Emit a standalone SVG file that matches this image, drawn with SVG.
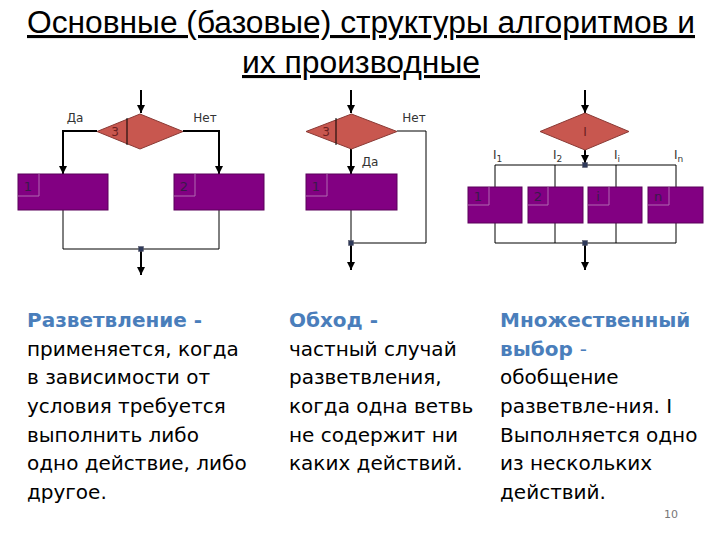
<svg xmlns="http://www.w3.org/2000/svg" width="720" height="540" viewBox="0 0 720 540">
<defs>
<marker id="ah" viewBox="0 0 8 10" refX="8" refY="5" markerWidth="8" markerHeight="10" markerUnits="userSpaceOnUse" orient="auto">
<path d="M0,1 L8,5 L0,9 Z" fill="#000"/>
</marker>
<style>
.dia{fill:#C8574F;stroke:#8a3a35;stroke-width:1}
.box{fill:#820082;stroke:#5a005a;stroke-width:1}
.lab{fill:none;stroke:#b068b0;stroke-width:1}
.ln{fill:none;stroke:#000;stroke-width:1}
.ar{fill:none;stroke:#000;stroke-width:2;marker-end:url(#ah)}
.jn{fill:#2f3a5a;stroke:#556;stroke-width:0.5}
.sm{font-family:"DejaVu Sans",sans-serif;font-size:12px;fill:#333}
.bl{font-family:"DejaVu Sans",sans-serif;font-size:13px;fill:#3a1a4a}
.dl{font-family:"DejaVu Sans",sans-serif;font-size:12px;fill:#6a2020}
.tx{font-family:"DejaVu Sans",sans-serif;font-size:20px;fill:#000}
.hd{font-family:"DejaVu Sans",sans-serif;font-size:20px;font-weight:bold;fill:#4A7EBB}
.ti{font-family:"Liberation Sans",Arial,sans-serif;font-size:31px;fill:#000;text-decoration:underline}
</style>
</defs>
<rect width="720" height="540" fill="#fff"/>
<g id="title">
<text class="ti" x="361" y="33" text-anchor="middle" textLength="668" lengthAdjust="spacingAndGlyphs">Основные (базовые) структуры алгоритмов и</text>
<text class="ti" x="361" y="73" text-anchor="middle" textLength="238" lengthAdjust="spacingAndGlyphs">их производные</text>
</g>
<g id="connectors">
<path class="ar" d="M141,90 V113"/>
<path class="ar" d="M97,131 H63 V174"/>
<path class="ar" d="M183,131 H219 V174"/>
<path class="ln" d="M63,210 V249 H219 V210"/>
<path class="ar" d="M141,249 V275"/>
<path class="ar" d="M351,90 V113"/>
<path class="ar" d="M351,149 V174"/>
<path class="ln" d="M397,131 H426 V243 H351 V210"/>
<path class="ar" d="M351,243 V270"/>
<path class="ar" d="M585,90 V113"/>
<path class="ar" d="M585,150 V163"/>
<path class="ln" d="M495,187 V165 H676 V187 M555,165 V187 M616,165 V187"/>
<path class="ln" d="M495,223 V243 H676 V223 M555,223 V243 M616,223 V243"/>
<path class="ar" d="M585,243 V270"/>
</g>
<g id="d1-cond">
<polygon class="dia" points="140,114 183,131.5 140,149 97,131.5"/>
<line class="ln" x1="127" y1="118" x2="127" y2="145" stroke="#5a1a1a"/>
<text class="dl" x="115" y="136" text-anchor="middle">3</text>
</g>
<g id="d1-labels">
<text class="sm" x="75" y="122" text-anchor="middle">Да</text>
<text class="sm" x="205" y="122" text-anchor="middle">Нет</text>
</g>
<g id="d1-box1">
<rect class="box" x="18" y="174" width="90" height="36"/>
<path class="lab" d="M18,196 H39 V174"/>
<text class="bl" x="28" y="191" text-anchor="middle">1</text>
</g>
<g id="d1-box2">
<rect class="box" x="174" y="174" width="90" height="36"/>
<path class="lab" d="M174,196 H195 V174"/>
<text class="bl" x="184" y="191" text-anchor="middle">2</text>
</g>
<g id="d1-join"><rect class="jn" x="138.5" y="246.5" width="5" height="5"/></g>
<g id="d2-cond">
<polygon class="dia" points="351.5,114 397,131.5 351.5,149 306,131.5"/>
<line class="ln" x1="336" y1="118" x2="336" y2="145" stroke="#5a1a1a"/>
<text class="dl" x="326" y="136" text-anchor="middle">3</text>
</g>
<g id="d2-labels">
<text class="sm" x="414" y="122" text-anchor="middle">Нет</text>
<text class="sm" x="370" y="166" text-anchor="middle">Да</text>
</g>
<g id="d2-box1">
<rect class="box" x="306" y="174" width="91" height="36"/>
<path class="lab" d="M306,196 H327 V174"/>
<text class="bl" x="316" y="191" text-anchor="middle">1</text>
</g>
<g id="d2-join"><rect class="jn" x="348.5" y="240.5" width="5" height="5"/></g>
<g id="d3-cond">
<polygon class="dia" points="585,113 629,131.5 585,150 540,131.5"/>
<text class="dl" x="585" y="136" text-anchor="middle">I</text>
</g>
<g id="d3-labels">
<text class="sm" x="493" y="159">I<tspan font-size="9" dy="3">1</tspan></text>
<text class="sm" x="553" y="159">I<tspan font-size="9" dy="3">2</tspan></text>
<text class="sm" x="614" y="159">I<tspan font-size="9" dy="3">i</tspan></text>
<text class="sm" x="674" y="159">I<tspan font-size="9" dy="3">n</tspan></text>
</g>
<g id="d3-join-top"><rect class="jn" x="582.5" y="162.5" width="5" height="5"/></g>
<g id="d3-box1">
<rect class="box" x="468" y="187" width="54" height="36"/>
<path class="lab" d="M468,205 H489 V187"/>
<text class="bl" x="478" y="201" text-anchor="middle">1</text>
</g>
<g id="d3-box2">
<rect class="box" x="528" y="187" width="55" height="36"/>
<path class="lab" d="M528,205 H548 V187"/>
<text class="bl" x="538" y="201" text-anchor="middle">2</text>
</g>
<g id="d3-boxi">
<rect class="box" x="588" y="187" width="54" height="36"/>
<path class="lab" d="M588,205 H609 V187"/>
<text class="bl" x="598" y="201" text-anchor="middle">i</text>
</g>
<g id="d3-boxn">
<rect class="box" x="648" y="187" width="55" height="36"/>
<path class="lab" d="M648,205 H669 V187"/>
<text class="bl" x="658" y="201" text-anchor="middle">n</text>
</g>
<g id="d3-join-bottom"><rect class="jn" x="582.5" y="240.5" width="5" height="5"/></g>
<g id="text-left">
<text class="hd" x="27" y="327">Разветвление -</text>
<text class="tx" x="27" y="356">применяется, когда</text>
<text class="tx" x="27" y="384">в зависимости от</text>
<text class="tx" x="27" y="413">условия требуется</text>
<text class="tx" x="27" y="442">выполнить либо</text>
<text class="tx" x="27" y="470">одно действие, либо</text>
<text class="tx" x="27" y="499">другое.</text>
</g>
<g id="text-mid">
<text class="hd" x="289" y="327">Обход -</text>
<text class="tx" x="289" y="356">частный случай</text>
<text class="tx" x="289" y="384">разветвления,</text>
<text class="tx" x="289" y="413">когда одна ветвь</text>
<text class="tx" x="289" y="442">не содержит ни</text>
<text class="tx" x="289" y="470">каких действий.</text>
</g>
<g id="text-right">
<text class="hd" x="500" y="327">Множественный</text>
<text class="hd" x="500" y="356">выбор <tspan font-weight="normal">-</tspan></text>
<text class="tx" x="500" y="384">обобщение</text>
<text class="tx" x="500" y="413">разветвле-ния. I</text>
<text class="tx" x="500" y="442">Выполняется одно</text>
<text class="tx" x="500" y="470">из нескольких</text>
<text class="tx" x="500" y="499">действий.</text>
</g>
<g id="page"><text x="671" y="518" text-anchor="middle" font-family="DejaVu Sans,sans-serif" font-size="11" fill="#777">10</text></g>
</svg>
